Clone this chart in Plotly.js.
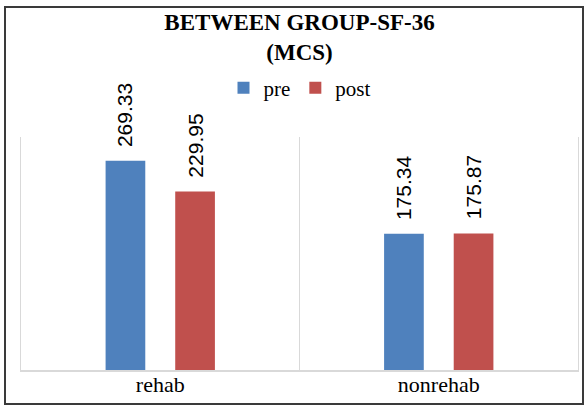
<!DOCTYPE html>
<html>
<head>
<meta charset="utf-8">
<script src="https://cdn.plot.ly/plotly-3.0.1.min.js"></script>
<style>
  html, body { margin: 0; padding: 0; background: #fff; }
  #wrap { position: relative; width: 585px; height: 405px; }
  #chart { position: absolute; left: 0; top: 0; width: 585px; height: 405px; }
  #frame { position: absolute; left: 4px; top: 6px; width: 576px; height: 395px;
           border: 2px solid #3a3a3a; pointer-events: none; }
</style>
</head>
<body>
<div id="wrap">
  <div id="chart"></div>
  <div id="frame"></div>
</div>
<script>
const categories = ['rehab', 'nonrehab'];
const seriesNames = ['pre', 'post'];
const preValues = [269.33, 175.34];
const postValues = [229.95, 175.87];
const seriesColors = ['#4F81BD', '#C0504D'];

const allValues = [preValues, postValues];
const barOffsets = [-35, 35];
const serif = 'Liberation Serif';

const traces = allValues.map((vals, i) => ({
  type: 'bar',
  name: seriesNames[i],
  x: categories,
  y: vals,
  marker: { color: seriesColors[i] },
  hoverinfo: 'skip'
}));

const annotations = [];
allValues.forEach((vals, i) => {
  vals.forEach((v, j) => {
    annotations.push({
      x: categories[j], y: v, xref: 'x', yref: 'y',
      text: v.toFixed(2), textangle: -90, showarrow: false,
      xanchor: 'center', yanchor: 'bottom',
      xshift: barOffsets[i], yshift: 12,
      font: { family: 'Liberation Sans', size: 21, color: '#000' }
    });
  });
});

const layout = {
  width: 585, height: 405,
  margin: { l: 21, r: 7, t: 137, b: 35 },
  paper_bgcolor: '#fff', plot_bgcolor: '#fff',
  font: { family: serif, color: '#000' },
  title: {
    text: '<b>BETWEEN GROUP-SF-36<br>(MCS)</b>',
    font: { family: serif, size: 23, color: '#000' },
    x: 0.5, xref: 'paper', xanchor: 'center',
    y: 0.925, yref: 'container', yanchor: 'top'
  },
  showlegend: true,
  legend: {
    orientation: 'h', x: 0.5, xanchor: 'center', xref: 'paper',
    y: 1.21, yanchor: 'middle',
    font: { family: serif, size: 21, color: '#000' },
    itemwidth: 30, tracegroupgap: 0
  },
  barmode: 'group',
  bargap: 0.5,
  bargroupgap: 0.43,
  xaxis: {
    type: 'category',
    tickson: 'boundaries',
    showgrid: true, gridcolor: '#D9D9D9', gridwidth: 1,
    showline: true, linecolor: '#D9D9D9', linewidth: 2,
    ticks: '',
    ticklabelstandoff: -6,
    tickfont: { family: serif, size: 22, color: '#000' },
    fixedrange: true
  },
  yaxis: {
    range: [0, 300],
    showgrid: false, zeroline: false,
    showline: true, mirror: true, linecolor: '#D9D9D9', linewidth: 1,
    showticklabels: false, ticks: '', fixedrange: true
  },
  annotations: annotations
};

Plotly.newPlot('chart', traces, layout, { displayModeBar: false, staticPlot: true });
</script>
</body>
</html>
